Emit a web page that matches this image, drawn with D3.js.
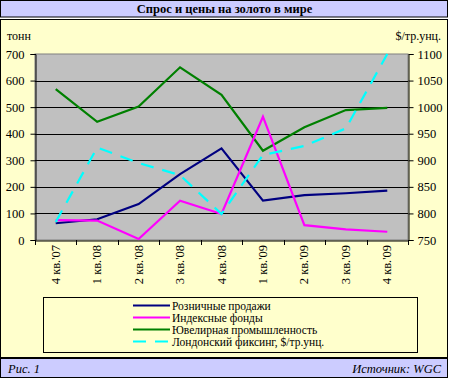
<!DOCTYPE html>
<html><head><meta charset="utf-8">
<script src="https://cdn.jsdelivr.net/npm/d3@7"></script>
<style>body{margin:0;padding:0;background:#fff}svg{display:block}text{font-family:"Liberation Serif","Times New Roman",serif}</style>
</head><body>
<script>
const categories = ["4 кв.'07","1 кв.'08","2 кв.'08","3 кв.'08","4 кв.'08","1 кв.'09","2 кв.'09","3 кв.'09","4 кв.'09"];
const retail = [63, 78, 135, 248, 345, 148, 169, 176, 186];
const etf = [75, 73, 4, 148, 98, 464, 56, 40, 31];
const jewelry = [568, 445, 502, 650, 546, 336, 424, 489, 497];
const fixing = [784, 924, 895, 872, 799, 910, 927, 960, 1100];
const leftTicks = [0,100,200,300,400,500,600,700];
const rightTicks = [750,800,850,900,950,1000,1050,1100];
const seriesNames = ["Розничные продажи","Индексные фонды","Ювелирная промышленность","Лондонский фиксинг, $/тр.унц."];

const W=449,H=379;
const font='"Liberation Serif","Times New Roman",serif';
const svg=d3.select("body").append("svg").attr("width",W).attr("height",H)
  .style("font-family",font);

svg.append("rect").attr("x",0.5).attr("y",0.5).attr("width",W-2).attr("height",16.5)
  .attr("fill","#ccccff").attr("stroke","#000");
svg.append("rect").attr("x",0.5).attr("y",19.5).attr("width",W-2).attr("height",338)
  .attr("fill","#ffffcc").attr("stroke","#000");
svg.append("rect").attr("x",0.5).attr("y",358.5).attr("width",W-2).attr("height",19)
  .attr("fill","#ccccff").attr("stroke","#000");

svg.append("text").attr("x",W/2).attr("y",13).attr("text-anchor","middle")
  .attr("font-weight","bold").attr("font-size",12.5).text("Спрос и цены на золото в мире");
svg.append("text").attr("x",8).attr("y",373).attr("font-style","italic").attr("font-size",12.5).text("Рис. 1");
svg.append("text").attr("x",441).attr("y",373).attr("text-anchor","end").attr("font-style","italic").attr("font-size",12.5).text("Источник: WGC");

svg.append("text").attr("x",7).attr("y",40).attr("font-size",12).text("тонн");
svg.append("text").attr("x",441).attr("y",40).attr("text-anchor","end").attr("font-size",12).text("$/тр.унц.");

const L=35,R=408,T=54,B=240;
const x=d3.scaleBand().domain(categories).range([L,R]);
const yL=d3.scaleLinear().domain([0,700]).range([B,T]);
const yR=d3.scaleLinear().domain([750,1100]).range([B,T]);

svg.append("rect").attr("x",L).attr("y",T).attr("width",R-L).attr("height",B-T)
  .attr("fill","#c0c0c0").attr("stroke","#808080");

svg.append("g").selectAll("line").data(leftTicks.slice(1,-1)).join("line")
  .attr("x1",L).attr("x2",R).attr("y1",d=>Math.round(yL(d))+0.5).attr("y2",d=>Math.round(yL(d))+0.5)
  .attr("stroke","#000");

const gl=svg.append("g").attr("transform",`translate(${L+0.5},0)`)
  .call(d3.axisLeft(yL).tickValues(leftTicks).tickFormat(d3.format("d")).tickSize(5).tickPadding(6));
const gr=svg.append("g").attr("transform",`translate(${R+0.5},0)`)
  .call(d3.axisRight(yR).tickValues(rightTicks).tickFormat(d3.format("d")).tickSize(5).tickPadding(4));
const gb=svg.append("g").attr("transform",`translate(0,${B+0.5})`)
  .call(d3.axisBottom(x).tickSize(0).tickFormat(""));
[gl,gr,gb].forEach(g=>{g.attr("font-family",null);g.select(".domain").attr("stroke","#000");g.selectAll("line").attr("stroke","#000");
  g.selectAll("text").attr("font-size",12.5).attr("fill","#000");});
gb.selectAll(".tick").remove();
const bounds=categories.map(c=>x(c)).concat([R]);
svg.append("g").selectAll("line").data(bounds).join("line")
  .attr("x1",d=>Math.round(d)+0.5).attr("x2",d=>Math.round(d)+0.5).attr("y1",B).attr("y2",B+5).attr("stroke","#000");
svg.append("g").selectAll("text").data(categories).join("text")
  .attr("transform",d=>`translate(${x(d)+x.bandwidth()/2+4},245) rotate(-90)`)
  .attr("text-anchor","end").attr("font-size",12.5).text(d=>d);

const cx=d=>x(d)+x.bandwidth()/2;
function drawLine(vals,scale,color,dash){
  const line=d3.line().x((v,i)=>cx(categories[i])).y(v=>scale(v));
  svg.append("path").attr("d",line(vals)).attr("fill","none").attr("stroke",color)
    .attr("stroke-width",2.2).attr("stroke-dasharray",dash||null);
}
drawLine(jewelry,yL,"#008000");
drawLine(retail,yL,"#000080");
drawLine(etf,yL,"#ff00ff");
drawLine(fixing,yR,"#00ffff","13,9");

svg.append("rect").attr("x",43.5).attr("y",297.5).attr("width",374).attr("height",55)
  .attr("fill","none").attr("stroke","#000");
const colors=["#000080","#ff00ff","#008000","#00ffff"];
const lg=svg.append("g").selectAll("g").data(seriesNames).join("g")
  .attr("transform",(d,i)=>`translate(0,${305.5+i*12})`);
lg.append("line").attr("x1",133).attr("x2",170).attr("y1",0).attr("y2",0)
  .attr("stroke",(d,i)=>colors[i]).attr("stroke-width",2.2)
  .attr("stroke-dasharray",(d,i)=>i===3?"13,9":null);
lg.append("text").attr("x",172).attr("y",4).attr("font-size",11.5).text(d=>d);
</script>
</body></html>
